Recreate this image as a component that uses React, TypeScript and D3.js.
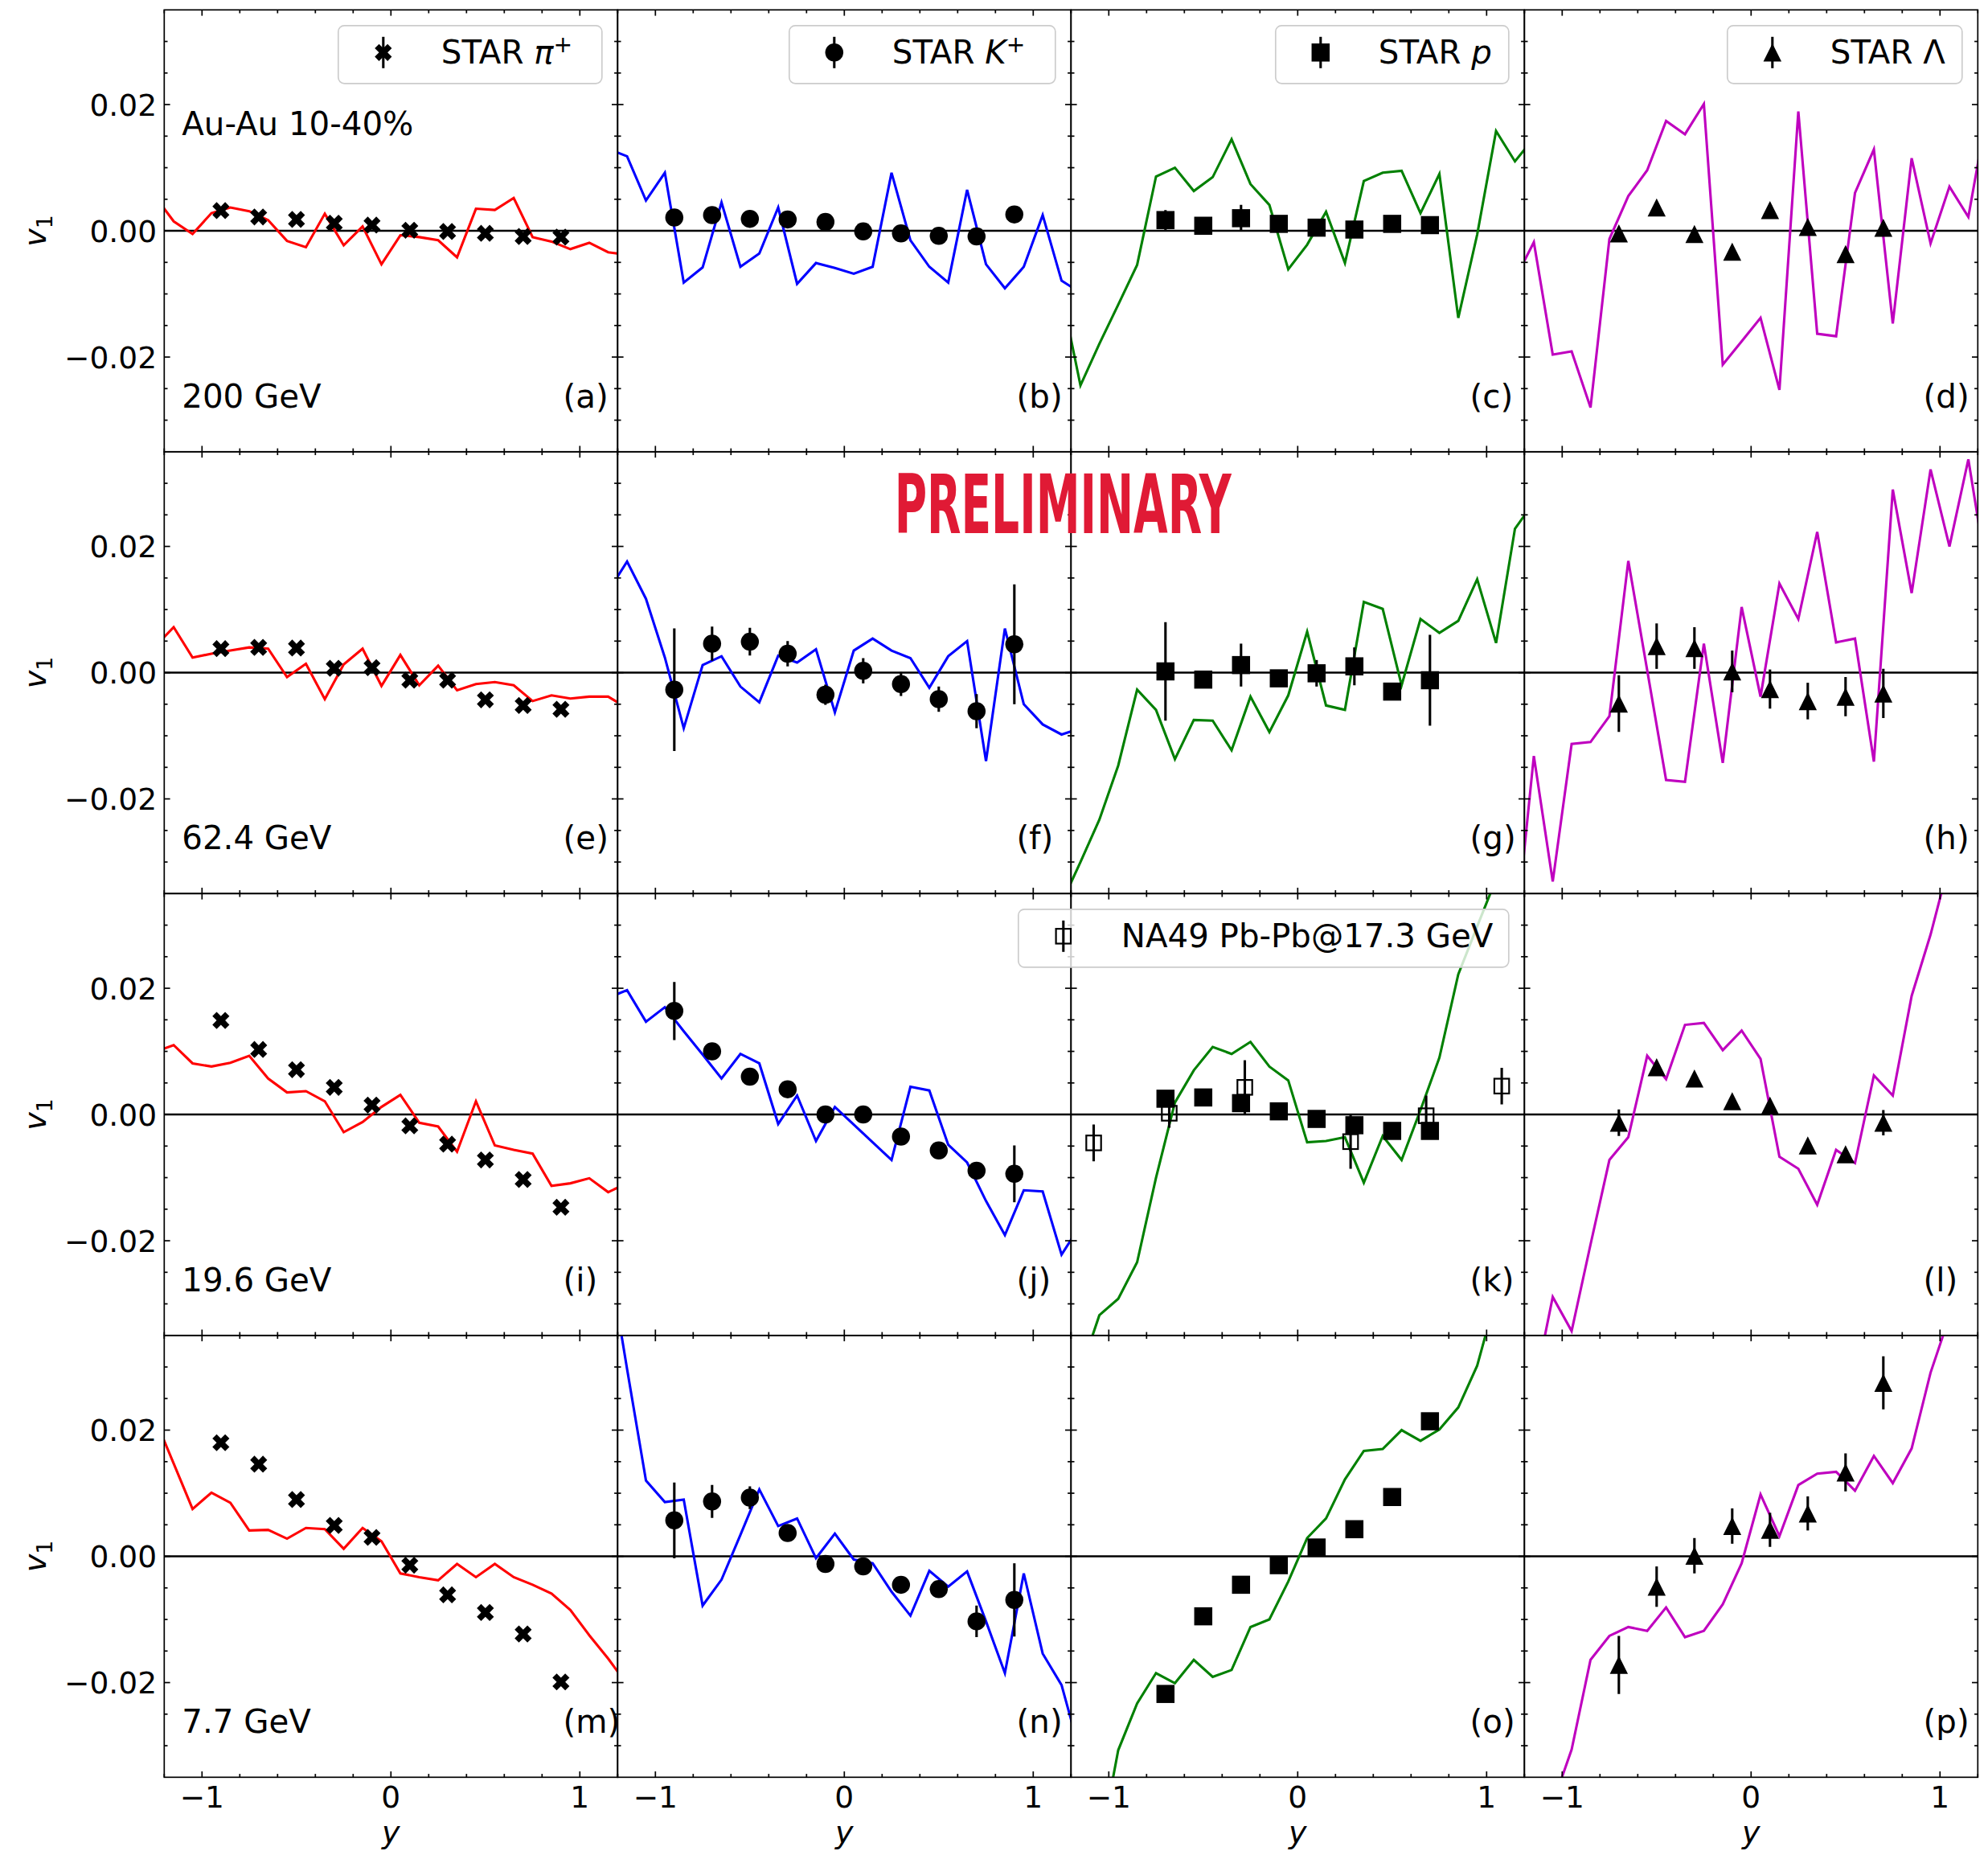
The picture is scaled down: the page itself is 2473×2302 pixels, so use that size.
import React from 'react';
import * as d3 from 'd3';

// ---------------------------------------------------------------------------
// Directed flow v1(y): STAR Au-Au 10-40% vs. model, four beam energies
// ---------------------------------------------------------------------------

const energyLabels = ['200 GeV', '62.4 GeV', '19.6 GeV', '7.7 GeV'];
const panelLetters = ['a', 'b', 'c', 'd', 'e', 'f', 'g', 'h', 'i', 'j', 'k', 'l', 'm', 'n', 'o', 'p'];

const xTickMajor = [-1, 0, 1];
const xTickMinor = [-1.2, -0.8, -0.6, -0.4, -0.2, 0.2, 0.4, 0.6, 0.8, 1.2];
const xTickLabels = ['\u22121', '0', '1'];
const yTickMajor = [-0.02, 0, 0.02];
const yTickMinor = [-0.03, -0.025, -0.015, -0.01, -0.005, 0.005, 0.01, 0.015, 0.025, 0.03];
const yTickLabels = ['\u22120.02', '0.00', '0.02'];

// model rapidity bins
const modelRapidity = [
  -1.25, -1.15, -1.05, -0.95, -0.85, -0.75, -0.65, -0.55, -0.45, -0.35, -0.25, -0.15, -0.05,
  0.05, 0.15, 0.25, 0.35, 0.45, 0.55, 0.65, 0.75, 0.85, 0.95, 1.05, 1.15, 1.25,
];

// model v1 — pi+
const pi200Model = [0.0055, 0.0015, -0.0005, 0.0028, 0.0037, 0.0031, 0.0017, -0.0016, -0.0026, 0.0027, -0.0023, 0.0007, -0.0053, -0.0007, -0.0010, -0.0015, -0.0042, 0.0035, 0.0033, 0.0052, -0.0010, -0.0017, -0.0029, -0.0019, -0.0034, -0.0038];
const pi62Model = [0.0041, 0.0072, 0.0024, 0.0030, 0.0035, 0.0040, 0.0038, -0.0007, 0.0014, -0.0042, 0.0013, 0.0038, -0.0021, 0.0028, -0.0020, 0.0011, -0.0028, -0.0018, -0.0015, -0.0020, -0.0045, -0.0036, -0.0041, -0.0038, -0.0038, -0.0056];
const pi19Model = [0.0099, 0.0110, 0.0081, 0.0076, 0.0082, 0.0093, 0.0057, 0.0035, 0.0037, 0.0021, -0.0028, -0.0012, 0.0012, 0.0031, -0.0013, -0.0019, -0.0059, 0.0021, -0.0049, -0.0056, -0.0062, -0.0113, -0.0109, -0.0101, -0.0123, -0.0109];
const pi7Model = [0.0219, 0.0147, 0.0075, 0.0101, 0.0085, 0.0041, 0.0042, 0.0028, 0.0045, 0.0043, 0.0012, 0.0045, 0.0024, -0.0027, -0.0033, -0.0038, -0.0012, -0.0033, -0.0012, -0.0033, -0.0045, -0.0059, -0.0085, -0.0125, -0.0162, -0.0203];

// model v1 — K+
const k200Model = [0.0130, 0.0118, 0.0048, 0.0092, -0.0082, -0.0058, 0.0045, -0.0057, -0.0036, 0.0037, -0.0084, -0.0051, -0.0059, -0.0068, -0.0057, 0.0092, -0.0015, -0.0057, -0.0082, 0.0065, -0.0053, -0.0091, -0.0057, 0.0025, -0.0079, -0.0098];
const k62Model = [0.0129, 0.0176, 0.0117, 0.0024, -0.0088, 0.0012, 0.0026, -0.0022, -0.0047, 0.0027, 0.0016, 0.0037, -0.0063, 0.0035, 0.0054, 0.0035, 0.0023, -0.0024, 0.0026, 0.0050, -0.0140, 0.0070, -0.0050, -0.0082, -0.0098, -0.0088];
const k19Model = [0.0185, 0.0197, 0.0147, 0.0170, 0.0132, 0.0095, 0.0057, 0.0096, 0.0081, -0.0015, 0.0030, -0.0042, 0.0012, -0.0016, -0.0044, -0.0072, 0.0044, 0.0038, -0.0048, -0.0076, -0.0137, -0.0191, -0.0120, -0.0122, -0.0222, -0.0175];
const k7Model = [0.0478, 0.0297, 0.0120, 0.0086, 0.0090, -0.0078, -0.0037, 0.0034, 0.0106, 0.0048, 0.0060, -0.0003, 0.0036, -0.0005, -0.0011, -0.0056, -0.0094, -0.0023, -0.0048, -0.0024, -0.0103, -0.0185, -0.0027, -0.0154, -0.0204, -0.0313];

// model v1 — p
const p200Model = [-0.0099, -0.0245, -0.0179, -0.0117, -0.0054, 0.0086, 0.0100, 0.0063, 0.0085, 0.0145, 0.0074, 0.0041, -0.0061, -0.0022, 0.0030, -0.0051, 0.0079, 0.0092, 0.0095, 0.0028, 0.0090, -0.0138, -0.0006, 0.0158, 0.0110, 0.0147];
const p62Model = [-0.0365, -0.0300, -0.0233, -0.0147, -0.0027, -0.0059, -0.0137, -0.0075, -0.0076, -0.0123, -0.0038, -0.0094, -0.0036, 0.0065, -0.0052, -0.0059, 0.0112, 0.0101, -0.0020, 0.0085, 0.0063, 0.0082, 0.0148, 0.0047, 0.0228, 0.0270];
const p19Model = [-0.0450, -0.0407, -0.0318, -0.0292, -0.0234, -0.0100, 0.0019, 0.0070, 0.0107, 0.0096, 0.0115, 0.0076, 0.0054, -0.0044, -0.0042, -0.0036, -0.0108, -0.0034, -0.0072, 0.0007, 0.0090, 0.0222, 0.0298, 0.0373, 0.0450, 0.0500];
const p7Model = [-0.0600, -0.0550, -0.0466, -0.0307, -0.0233, -0.0185, -0.0201, -0.0164, -0.0191, -0.0180, -0.0112, -0.0100, -0.0040, 0.0029, 0.0060, 0.0122, 0.0167, 0.0170, 0.0200, 0.0183, 0.0201, 0.0236, 0.0302, 0.0411, 0.0500, 0.0600];

// model v1 — Lambda
const l200Model = [-0.0077, -0.0018, -0.0196, -0.0191, -0.0280, -0.0013, 0.0055, 0.0096, 0.0174, 0.0153, 0.0201, -0.0212, -0.0175, -0.0138, -0.0252, 0.0189, -0.0163, -0.0167, 0.0060, 0.0129, -0.0147, 0.0115, -0.0020, 0.0070, 0.0022, 0.0189];
const l62Model = [-0.0427, -0.0132, -0.0331, -0.0113, -0.0110, -0.0069, 0.0177, 0.0004, -0.0170, -0.0173, 0.0046, -0.0143, 0.0104, -0.0038, 0.0141, 0.0085, 0.0223, 0.0048, 0.0054, -0.0141, 0.0290, 0.0126, 0.0322, 0.0200, 0.0338, 0.0152];
const l19Model = [-0.0500, -0.0437, -0.0289, -0.0343, -0.0206, -0.0072, -0.0036, 0.0093, 0.0056, 0.0142, 0.0145, 0.0102, 0.0133, 0.0088, -0.0067, -0.0086, -0.0143, -0.0056, -0.0077, 0.0062, 0.0030, 0.0188, 0.0285, 0.0400, 0.0450, 0.0500];
const l7Model = [-0.0500, -0.0450, -0.0392, -0.0306, -0.0164, -0.0126, -0.0112, -0.0118, -0.0081, -0.0128, -0.0118, -0.0076, -0.0011, 0.0098, 0.0032, 0.0113, 0.0131, 0.0134, 0.0104, 0.0159, 0.0116, 0.0171, 0.0291, 0.0380, 0.0450, 0.0500];

// STAR measurements
const mesonRapidity = [-0.9, -0.7, -0.5, -0.3, -0.1, 0.1, 0.3, 0.5, 0.7, 0.9];
const baryonRapidity = [-0.7, -0.5, -0.3, -0.1, 0.1, 0.3, 0.5, 0.7];

const pi200 = [0.0032, 0.0022, 0.0018, 0.0012, 0.0009, 0.0001, -0.0001, -0.0004, -0.0009, -0.0010];
const pi62 = [0.0038, 0.0040, 0.0039, 0.0007, 0.0008, -0.0012, -0.0012, -0.0043, -0.0052, -0.0058];
const pi19 = [0.0149, 0.0103, 0.0071, 0.0043, 0.0015, -0.0018, -0.0047, -0.0072, -0.0103, -0.0147];
const pi7 = [0.0180, 0.0146, 0.0090, 0.0049, 0.0030, -0.0014, -0.0061, -0.0089, -0.0123, -0.0199];
const piErr = [0.0003, 0.0003, 0.0003, 0.0003, 0.0003, 0.0003, 0.0003, 0.0003, 0.0003, 0.0003];

const k200 = [0.0021, 0.0025, 0.0019, 0.0018, 0.0014, -0.0001, -0.0004, -0.0008, -0.0009, 0.0026];
const k200Err = [0.0005, 0.0005, 0.0005, 0.0005, 0.0005, 0.0005, 0.0005, 0.0005, 0.0005, 0.0005];
const k62 = [-0.0027, 0.0046, 0.0049, 0.0030, -0.0035, 0.0003, -0.0018, -0.0042, -0.0061, 0.0045];
const k62Err = [0.0097, 0.0027, 0.0022, 0.0020, 0.0016, 0.0020, 0.0019, 0.0020, 0.0027, 0.0095];
const k19 = [0.0164, 0.0100, 0.0060, 0.0040, 0.0000, 0.0000, -0.0035, -0.0057, -0.0089, -0.0094];
const k19Err = [0.0046, 0.0008, 0.0006, 0.0006, 0.0006, 0.0006, 0.0008, 0.0008, 0.0010, 0.0045];
const k7 = [0.0057, 0.0087, 0.0093, 0.0037, -0.0012, -0.0016, -0.0045, -0.0052, -0.0103, -0.0069];
const k7Err = [0.0060, 0.0026, 0.0018, 0.0010, 0.0012, 0.0012, 0.0012, 0.0012, 0.0025, 0.0058];

const p200 = [0.0017, 0.0008, 0.0020, 0.0011, 0.0005, 0.0002, 0.0011, 0.0009];
const p200Err = [0.0016, 0.0005, 0.0021, 0.0005, 0.0005, 0.0005, 0.0005, 0.0005];
const p62 = [0.0002, -0.0011, 0.0012, -0.0009, -0.0001, 0.0010, -0.0030, -0.0012];
const p62Err = [0.0078, 0.0005, 0.0034, 0.0005, 0.0021, 0.0030, 0.0005, 0.0072];
const p19 = [0.0025, 0.0027, 0.0018, 0.0005, -0.0007, -0.0017, -0.0026, -0.0026];
const p19Err = [0.0006, 0.0005, 0.0010, 0.0005, 0.0005, 0.0005, 0.0005, 0.0005];
const p7 = [-0.0218, -0.0095, -0.0045, -0.0014, 0.0014, 0.0043, 0.0094, 0.0214];
const p7Err = [0.0005, 0.0005, 0.0005, 0.0005, 0.0005, 0.0005, 0.0005, 0.0005];

const l200 = [-0.0004, 0.0037, -0.0005, -0.0033, 0.0033, 0.0006, -0.0037, 0.0005];
const l200Err = [0.0008, 0.0008, 0.0008, 0.0008, 0.0008, 0.0008, 0.0008, 0.0008];
const l62 = [-0.0049, 0.0042, 0.0039, 0.0002, -0.0026, -0.0045, -0.0038, -0.0033];
const l62Err = [0.0045, 0.0036, 0.0033, 0.0033, 0.0031, 0.0029, 0.0031, 0.0039];
const l19 = [-0.0013, 0.0075, 0.0057, 0.0021, 0.0014, -0.0049, -0.0063, -0.0013];
const l19Err = [0.0021, 0.0008, 0.0008, 0.0008, 0.0008, 0.0008, 0.0008, 0.0020];
const l7 = [-0.0172, -0.0048, 0.0001, 0.0048, 0.0042, 0.0068, 0.0133, 0.0275];
const l7Err = [0.0046, 0.0032, 0.0028, 0.0028, 0.0027, 0.0027, 0.0030, 0.0042];

// NA49 Pb-Pb @ 17.3 GeV protons
const na49Rapidity = [-1.08, -0.68, -0.28, 0.28, 0.68, 1.08];
const na49Proton = [-0.0045, 0.0002, 0.0043, -0.0043, -0.0002, 0.0045];
const na49Err = [0.0029, 0.0023, 0.0043, 0.0043, 0.0032, 0.0029];

// ---------------------------------------------------------------------------
// layout / style
// ---------------------------------------------------------------------------
const W = 2473;
const H = 2302;
const plotLeft = 204.3;
const plotTop = 12.3;
const panelW = 564;
const panelH = 549.5;
const X_DOMAIN = [-1.2, 1.2];
const Y_DOMAIN = [-0.035, 0.035];
const FONT = "'DejaVu Sans', 'Liberation Sans', sans-serif";
const FS = 37.5; // tick labels
const FS_TXT = 40.3; // annotations and legend entries
const MS = 22.5;

type Species = {
  key: string;
  color: string;
  marker: string;
  rapidity: number[];
  model: number[][];
  values: number[][];
  errors: number[][];
};

const species: Species[] = [
  { key: 'pi', color: '#ff0000', marker: 'X', rapidity: mesonRapidity,
    model: [pi200Model, pi62Model, pi19Model, pi7Model],
    values: [pi200, pi62, pi19, pi7], errors: [piErr, piErr, piErr, piErr] },
  { key: 'K', color: '#0000ff', marker: 'o', rapidity: mesonRapidity,
    model: [k200Model, k62Model, k19Model, k7Model],
    values: [k200, k62, k19, k7], errors: [k200Err, k62Err, k19Err, k7Err] },
  { key: 'p', color: '#008000', marker: 's', rapidity: baryonRapidity,
    model: [p200Model, p62Model, p19Model, p7Model],
    values: [p200, p62, p19, p7], errors: [p200Err, p62Err, p19Err, p7Err] },
  { key: 'L', color: '#bf00bf', marker: '^', rapidity: baryonRapidity,
    model: [l200Model, l62Model, l19Model, l7Model],
    values: [l200, l62, l19, l7], errors: [l200Err, l62Err, l19Err, l7Err] },
];

// filled X (rotated plus)
const xMarkerPath = (() => {
  const pts = [[-1, -3], [1, -3], [1, -1], [3, -1], [3, 1], [1, 1], [1, 3], [-1, 3], [-1, 1], [-3, 1], [-3, -1], [-1, -1]];
  const c = Math.cos(Math.PI / 4);
  const s = Math.sin(Math.PI / 4);
  const sc = MS / 6;
  return (
    'M' +
    pts
      .map(([x, y]) => {
        const rx = (x * c - y * s) * sc;
        const ry = (x * s + y * c) * sc;
        return `${rx.toFixed(2)},${ry.toFixed(2)}`;
      })
      .join('L') +
    'Z'
  );
})();

function Marker({ kind, x, y }: { kind: string; x: number; y: number }) {
  const h = MS / 2;
  if (kind === 'X') return <path d={xMarkerPath} transform={`translate(${x},${y})`} fill="#000" />;
  if (kind === 'o') return <circle cx={x} cy={y} r={h} fill="#000" />;
  if (kind === 's') return <rect x={x - h} y={y - h} width={MS} height={MS} fill="#000" />;
  if (kind === '^')
    return <path d={`M${x},${y - h}L${x + h},${y + h}L${x - h},${y + h}Z`} fill="#000" />;
  if (kind === 'open')
    return <rect x={x - 9.2} y={y - 9.2} width={18.4} height={18.4} fill="none" stroke="#000" strokeWidth={2.2} />;
  return null;
}

function LegendLabel({ k, x, y }: { k: string; x: number; y: number }) {
  const common = { x, y, fontFamily: FONT, fontSize: FS_TXT, fill: '#000' };
  if (k === 'pi')
    return (
      <text {...common}>
        STAR <tspan fontStyle="italic">π</tspan>
        <tspan fontSize={FS_TXT * 0.7} dy={-14}>+</tspan>
      </text>
    );
  if (k === 'K')
    return (
      <text {...common}>
        STAR <tspan fontStyle="italic">K</tspan>
        <tspan fontSize={FS_TXT * 0.7} dy={-14}>+</tspan>
      </text>
    );
  if (k === 'p')
    return (
      <text {...common}>
        STAR <tspan fontStyle="italic">p</tspan>
      </text>
    );
  if (k === 'L') return <text {...common}>STAR Λ</text>;
  return <text {...common}>{k}</text>;
}

// legend boxes: width of each frame (right edge sits 19.5 px inside the panel)
const legendWidths = [328, 331, 290, 292];
const na49LegendWidth = 610;

function Legend({ right, top, width, marker, label }: { right: number; top: number; width: number; marker: string; label: string }) {
  const left = right - width;
  const my = top + 33.5;
  const mx = left + 56;
  return (
    <g>
      <rect x={left} y={top} width={width} height={72} rx={7.5} ry={7.5} fill="#fff" fillOpacity={0.8} stroke="#cccccc" strokeWidth={1.7} />
      <line x1={mx} x2={mx} y1={my - 19.5} y2={my + 19.5} stroke="#000" strokeWidth={3.1} />
      <Marker kind={marker} x={mx} y={my} />
      <LegendLabel k={label} x={left + 128} y={top + 47} />
    </g>
  );
}

function Panel({ r, c }: { r: number; c: number }) {
  const x0 = plotLeft + c * panelW;
  const y0 = plotTop + r * panelH;
  const xs = d3.scaleLinear().domain(X_DOMAIN).range([x0, x0 + panelW]);
  const ys = d3.scaleLinear().domain(Y_DOMAIN).range([y0 + panelH, y0]);
  const sp = species[c];
  const clipId = `clip-${r}-${c}`;
  const line = d3
    .line<number>()
    .x((_, i) => xs(modelRapidity[i]))
    .y((v) => ys(v));
  const modelPath = line(sp.model[r]) || '';
  const vals = sp.values[r];
  const errs = sp.errors[r];
  const bottom = y0 + panelH;
  const rightX = x0 + panelW;
  const showNA49 = r === 2 && c === 2;
  const tickStyle = { stroke: '#000', strokeWidth: 1.7 };

  return (
    <g>
      <defs>
        <clipPath id={clipId}>
          <rect x={x0} y={y0} width={panelW} height={panelH} />
        </clipPath>
      </defs>
      <g clipPath={`url(#${clipId})`}>
        <line x1={x0} x2={rightX} y1={ys(0)} y2={ys(0)} stroke="#000" strokeWidth={2.6} />
        <path d={modelPath} fill="none" stroke={sp.color} strokeWidth={3.1} strokeLinejoin="miter" />
        {showNA49 &&
          na49Rapidity.map((y, i) => (
            <g key={`na${i}`}>
              <line x1={xs(y)} x2={xs(y)} y1={ys(na49Proton[i] - na49Err[i])} y2={ys(na49Proton[i] + na49Err[i])} stroke="#000" strokeWidth={3.1} />
              <Marker kind="open" x={xs(y)} y={ys(na49Proton[i])} />
            </g>
          ))}
        {sp.rapidity.map((y, i) => (
          <line key={`e${i}`} x1={xs(y)} x2={xs(y)} y1={ys(vals[i] - errs[i])} y2={ys(vals[i] + errs[i])} stroke="#000" strokeWidth={3.1} />
        ))}
        {sp.rapidity.map((y, i) => (
          <Marker key={`m${i}`} kind={sp.marker} x={xs(y)} y={ys(vals[i])} />
        ))}
      </g>

      {/* inward ticks on all four sides */}
      {xTickMajor.map((t) => (
        <g key={`xM${t}`}>
          <line x1={xs(t)} x2={xs(t)} y1={bottom} y2={bottom - 7.3} {...tickStyle} />
          <line x1={xs(t)} x2={xs(t)} y1={y0} y2={y0 + 7.3} {...tickStyle} />
        </g>
      ))}
      {xTickMinor.map((t) => (
        <g key={`xm${t}`}>
          <line x1={xs(t)} x2={xs(t)} y1={bottom} y2={bottom - 4.2} {...tickStyle} />
          <line x1={xs(t)} x2={xs(t)} y1={y0} y2={y0 + 4.2} {...tickStyle} />
        </g>
      ))}
      {yTickMajor.map((t) => (
        <g key={`yM${t}`}>
          <line x1={x0} x2={x0 + 7.3} y1={ys(t)} y2={ys(t)} {...tickStyle} />
          <line x1={rightX} x2={rightX - 7.3} y1={ys(t)} y2={ys(t)} {...tickStyle} />
        </g>
      ))}
      {yTickMinor.map((t) => (
        <g key={`ym${t}`}>
          <line x1={x0} x2={x0 + 4.2} y1={ys(t)} y2={ys(t)} {...tickStyle} />
          <line x1={rightX} x2={rightX - 4.2} y1={ys(t)} y2={ys(t)} {...tickStyle} />
        </g>
      ))}

      <rect x={x0} y={y0} width={panelW} height={panelH} fill="none" stroke="#000" strokeWidth={1.7} />

      {c === 0 &&
        yTickMajor.map((t, i) => (
          <text key={`yl${t}`} x={x0 - 9.3} y={ys(t) + 13.7} textAnchor="end" fontFamily={FONT} fontSize={FS}>
            {yTickLabels[i]}
          </text>
        ))}
      {c === 0 && (
        <text transform={`translate(57,${y0 + panelH / 2}) rotate(-90)`} textAnchor="middle" fontFamily={FONT} fontSize={38}>
          <tspan fontStyle="italic">v</tspan>
          <tspan fontSize={26.6} dy={8}>1</tspan>
        </text>
      )}
      {r === 3 &&
        xTickMajor.map((t, i) => (
          <text key={`xl${t}`} x={xs(t)} y={bottom + 37.4} textAnchor="middle" fontFamily={FONT} fontSize={FS}>
            {xTickLabels[i]}
          </text>
        ))}
      {r === 3 && (
        <text x={xs(0)} y={bottom + 81.2} textAnchor="middle" fontFamily={FONT} fontSize={38} fontStyle="italic">
          y
        </text>
      )}

      {c === 0 && (
        <text x={x0 + 22} y={bottom - 0.1 * panelH} fontFamily={FONT} fontSize={FS_TXT}>
          {energyLabels[r]}
        </text>
      )}
      {r === 0 && c === 0 && (
        <text x={x0 + 22} y={y0 + 156} fontFamily={FONT} fontSize={FS_TXT}>
          Au-Au 10-40%
        </text>
      )}
      <text x={x0 + 0.88 * panelW} y={bottom - 0.1 * panelH} fontFamily={FONT} fontSize={FS_TXT}>
        ({panelLetters[r * 4 + c]})
      </text>

      {r === 0 && (
        <Legend right={rightX - 19.5} top={y0 + 19.5} width={legendWidths[c]} marker={sp.marker} label={sp.key} />
      )}
    </g>
  );
}

export default function App() {
  const rows = [0, 1, 2, 3];
  const cols = [0, 1, 2, 3];
  const na49Right = plotLeft + 3 * panelW - 19.5;
  const na49Top = plotTop + 2 * panelH + 19.5;
  return (
    <svg
      width={W}
      height={H}
      viewBox={`0 0 ${W} ${H}`}
      style={{ position: 'absolute', left: 0, top: 0, background: '#fff' }}
    >
      <rect x={0} y={0} width={W} height={H} fill="#fff" />
      {rows.map((r) => cols.map((c) => <Panel key={`${r}-${c}`} r={r} c={c} />))}
      <Legend right={na49Right} top={na49Top} width={na49LegendWidth} marker="open" label="NA49 Pb-Pb@17.3 GeV" />
      <text
        x={1112.7}
        y={662.7}
        textLength={419}
        lengthAdjust="spacingAndGlyphs"
        fontFamily="'Liberation Sans Narrow', 'DejaVu Sans Condensed', 'Roboto', sans-serif"
        fontWeight="bold"
        fontSize={101}
        fill="#e01a35"
      >
        PRELIMINARY
      </text>
    </svg>
  );
}
